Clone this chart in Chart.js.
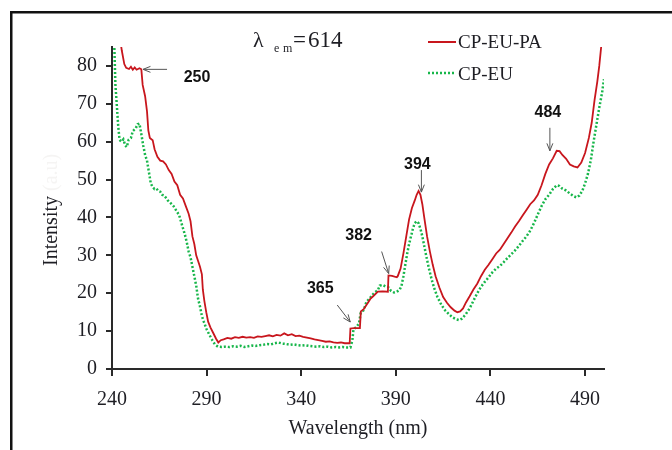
<!DOCTYPE html>
<html>
<head>
<meta charset="utf-8">
<title>Excitation spectra</title>
<script src="https://cdn.jsdelivr.net/npm/chart.js@4.4.0/dist/chart.umd.min.js"></script>
<style>
  html, body { margin: 0; padding: 0; background: #fff; }
  #wrap { width: 672px; height: 450px; position: relative; }
</style>
</head>
<body>
<div id="wrap"><canvas id="excChart"></canvas></div>
<script>
// ------------------------------------------------------------
// data
// ------------------------------------------------------------
const paWavelength = [
  244.0, 245.2, 246.5, 247.5, 249, 250, 251, 252, 253, 254.5, 255.5, 256.2, 257.5, 258.5, 259.2,
  260, 261.5, 262.5, 264, 265.5, 267, 268.5, 270, 271.5, 273, 274.5, 276, 277.5, 279, 280.5,
  281.5, 282.5, 283.5, 284.5, 285.5, 286.5, 287.5, 288, 288.8, 289.8, 290.8, 292, 293.5, 295,
  296.2, 297.5, 299, 301, 303, 305, 307, 309, 311, 313, 315, 317, 319, 321, 323, 325, 327, 329,
  331, 333, 335, 337, 339, 341, 343, 345, 347, 349, 351, 353, 355, 357, 359, 361, 363, 365.6,
  366, 368, 371, 371.5, 373, 375.5, 376.5, 378, 380.5, 383, 385.8, 386.1, 388, 390.5, 391,
  392.5, 394, 395.5, 397, 398.5, 400, 401, 402, 403, 404, 405, 406.5, 408, 409.5, 411, 413,
  415, 417, 419, 421, 422.5, 424, 425.5, 427, 429, 431, 433, 435, 437, 439, 441, 443, 445,
  447, 449, 451, 453, 455, 457, 459, 461, 463, 465, 467, 469, 471, 473, 475, 476.5, 478, 480,
  482, 484, 486, 488, 490, 492, 493.5, 495, 496.5, 497.5, 498.5, 499.5
];
const paIntensity = [
  88, 84, 80.5, 79.5, 79.2, 79.8, 79.0, 79.6, 79.0, 79.4, 79.1, 75, 72, 68, 63,
  61, 60.4, 58, 56, 55, 54.8, 54, 52.5, 51.5, 49.5, 48.5, 46, 45, 43, 41,
  39, 35, 33, 30, 28.5, 27, 25, 21, 18, 15, 12.5, 11, 9.5, 8,
  7, 7.6, 7.8, 8.2, 8.0, 8.4, 8.2, 8.5, 8.3, 8.4, 8.2, 8.6, 8.5, 8.7, 8.9, 8.6, 9.0, 8.8,
  9.4, 8.9, 9.2, 8.7, 8.8, 8.5, 8.3, 8.1, 7.8, 7.6, 7.4, 7.2, 7.3, 7.0, 6.9, 7.0, 6.8, 6.8,
  10.7, 10.8, 10.8, 15.2, 15.8, 17.7, 18.5, 19.2, 20.4, 20.5, 20.4, 24.7, 24.6, 24.2, 24.5,
  26.5, 30.5, 35, 39.5, 42.5, 44.5, 46, 47, 46, 43.5, 40, 35, 31, 27.5, 24.5, 21.5,
  19, 17.5, 16.3, 15.4, 15.0, 15.2, 16, 17.5, 19.2, 21, 22.5, 24.5, 26.2, 27.5, 29, 30.5, 31.5,
  33, 34.5, 36, 37.6, 39, 40.5, 42, 43.5, 44.5, 46, 48.5, 51.5, 54, 55.6, 57.6, 57.5, 56.5, 55.5,
  54, 53.5, 53.2, 54.5, 57, 61, 65, 71, 76, 80, 85, 90
];

const euWavelength = [
  240.8, 241.3, 241.8, 242.5, 243.3, 244.0, 245, 246, 247, 247.8, 248.8, 250, 251, 252.5, 253.5,
  254.5, 255.5, 256.5, 257.5, 258.5, 259.5, 260.5, 261.5, 262.5, 263.5, 264.5, 265.5, 266.5,
  267.5, 268.5, 269.5, 271, 272.5, 274, 275.5, 277, 278.5, 279.5, 280.5, 281.5, 282.5, 283.5,
  284.5, 285.5, 286.5, 287.5, 288.5, 290, 291.5, 293, 294.5, 296, 298, 300, 302, 304, 306, 308,
  310, 312, 314, 316, 318, 320, 322, 324, 326, 328, 330, 332, 334, 336, 338, 340, 342, 344,
  346, 348, 350, 352, 354, 356, 358, 360, 362, 364, 366, 367, 367.6, 369, 370.5, 371.5, 373,
  374.5, 376, 377.5, 379, 380.5, 381.5, 383, 384.5, 386, 387.5, 389, 390.5, 392, 393, 394,
  395, 396, 397, 398, 399, 400, 401, 402, 403, 404, 405, 406, 407.5, 409, 410.5, 412, 414,
  416, 418, 420, 422, 423.5, 425, 427, 429, 431, 433, 435, 437, 439, 441, 443, 445, 447, 449,
  451, 453, 455, 457, 459, 461, 463, 465, 467, 469, 471, 473, 475, 476.5, 478, 480, 482, 484,
  485.5, 487, 488.5, 490, 491.5, 493, 494.5, 496, 497.5, 499, 500
];
const euIntensity = [
  90, 84, 75, 70, 64, 60.5, 60.0, 60.6, 59, 58.6, 60.5, 61, 62.8, 63.5, 64.6,
  64.8, 62, 59, 56.5, 55, 52, 49, 48, 47.5, 47.6, 47, 46.8, 46,
  45.8, 45.2, 44.5, 43.8, 43, 41.8, 40.6, 38, 35.5, 33.5, 31, 29.5, 27, 24.5,
  22, 18.5, 16.5, 14, 12.5, 10.5, 9, 7.6, 6.4, 5.9, 5.8, 5.9, 5.8, 6.0, 5.9, 6.1,
  5.8, 6.0, 6.2, 6.1, 6.3, 6.4, 6.6, 6.5, 6.8, 7.0, 6.7, 6.6, 6.4, 6.5, 6.3, 6.2, 6.3, 6.1,
  6.0, 5.9, 6.0, 5.8, 5.9, 5.7, 5.8, 5.7, 5.8, 5.7, 5.7, 7.5, 10.5, 11, 12, 15, 15.5,
  17.8, 18.5, 19.5, 20.3, 20.8, 22, 22.2, 21.8, 21.6, 20.6, 20.2, 20.4, 20.9, 22, 24.5,
  27.5, 30.5, 33, 35, 37, 38.5, 39, 38.5, 37, 35, 32.5, 30, 26.5, 23.5, 21, 19, 17,
  15.5, 14.5, 13.6, 13.1, 12.9, 13.3, 14.5, 16, 18, 20, 21.7, 23, 24.2, 25.5, 26.5, 27.2, 28.2, 29.3,
  30.3, 31.3, 32.5, 33.8, 35, 36.5, 38.5, 40.8, 43, 44.8, 46, 47.5, 48.5, 48.3, 47.6, 47.1, 46.3, 45.6,
  45.3, 45.8, 47, 49, 51.5, 55, 60, 64.5, 69, 73, 76.5
];

const seriesNames = ['CP-EU-PA', 'CP-EU'];
const xTickValues = [240, 290, 340, 390, 440, 490];
const yTickValues = [0, 10, 20, 30, 40, 50, 60, 70, 80];

// marked peaks: label + where the arrow points (data units)
const peakLabels = ['250', '365', '382', '394', '484'];
const peakWavelength = [256.4, 365.9, 386.2, 403.5, 471.4];
const peakIntensity = [79.1, 12.4, 25.2, 46.7, 57.6];

// ------------------------------------------------------------
// styles
// ------------------------------------------------------------
const RED = '#c8161d';
const GREEN = '#17b64a';
const INK = '#1e1e24';
const AXIS = '#2a2a2a';
const SERIF = '"Liberation Serif", "Times New Roman", serif';

// arrow tail and label centre, px offsets from the arrow tip
const peakLayout = [
  { tail: [24, 0],    text: [54, 8] },
  { tail: [-13, -17], text: [-30, -33] },
  { tail: [-7, -22],  text: [-30, -38] },
  { tail: [0, -22],   text: [-4, -27] },
  { tail: [0, -23],   text: [-2, -38] },
];

function toPoints(xs, ys) {
  return xs.map((x, i) => ({ x, y: ys[i] }));
}

function drawArrow(ctx, x0, y0, x1, y1) {
  const a = Math.atan2(y1 - y0, x1 - x0);
  const h = 8;
  ctx.beginPath();
  ctx.moveTo(x0, y0);
  ctx.lineTo(x1, y1);
  ctx.moveTo(x1 - h * Math.cos(a - 0.38), y1 - h * Math.sin(a - 0.38));
  ctx.lineTo(x1, y1);
  ctx.lineTo(x1 - h * Math.cos(a + 0.38), y1 - h * Math.sin(a + 0.38));
  ctx.stroke();
}

// outer frame of the original figure
const framePlugin = {
  id: 'frame',
  beforeDraw(chart) {
    const ctx = chart.ctx;
    ctx.save();
    ctx.fillStyle = '#fff';
    ctx.fillRect(0, 0, chart.width, chart.height);
    ctx.fillStyle = '#111';
    ctx.fillRect(10, 11, 2.5, chart.height - 11);
    ctx.fillRect(10, 11, chart.width - 10, 2.5);
    ctx.restore();
  },
};

// y title, legend, lambda note and peak arrows
const notesPlugin = {
  id: 'notes',
  afterDraw(chart) {
    const ctx = chart.ctx;
    const xs = chart.scales.x, ys = chart.scales.y;
    ctx.save();

    // y title: "Intensity" with an almost invisible "(a.u)"
    ctx.translate(52, 266);
    ctx.rotate(-Math.PI / 2);
    ctx.font = '20px ' + SERIF;
    ctx.textAlign = 'left';
    ctx.textBaseline = 'middle';
    ctx.fillStyle = INK;
    ctx.fillText('Intensity', 0, 0);
    const w = ctx.measureText('Intensity ').width;
    ctx.fillStyle = 'rgba(120,100,80,0.07)';
    ctx.fillText('(a.u)', w, 0);
    ctx.setTransform(1, 0, 0, 1, 0, 0);

    // lambda_em = 614
    ctx.fillStyle = INK;
    ctx.textAlign = 'left';
    ctx.textBaseline = 'alphabetic';
    ctx.font = '22px ' + SERIF;
    ctx.fillText('\u03bb', 253, 47);
    ctx.font = '12px ' + SERIF;
    ctx.fillText('e', 274, 52);
    ctx.fillText('m', 283, 52);
    ctx.font = '23px ' + SERIF;
    ctx.fillText('=', 293, 47);
    ctx.fillText('614', 308, 47);

    // legend
    ctx.lineWidth = 2;
    ctx.strokeStyle = RED;
    ctx.beginPath();
    ctx.moveTo(428, 42);
    ctx.lineTo(456, 42);
    ctx.stroke();
    ctx.strokeStyle = GREEN;
    ctx.lineWidth = 2.5;
    ctx.setLineDash([2, 2]);
    ctx.beginPath();
    ctx.moveTo(428, 73);
    ctx.lineTo(455, 73);
    ctx.stroke();
    ctx.setLineDash([]);
    ctx.font = '19px ' + SERIF;
    ctx.textBaseline = 'middle';
    ctx.fillStyle = INK;
    ctx.fillText(seriesNames[0], 458, 43);
    ctx.fillText(seriesNames[1], 458, 75);

    // peak arrows
    ctx.strokeStyle = '#555';
    ctx.lineWidth = 1;
    ctx.font = 'bold 16px "Liberation Sans", Arial, sans-serif';
    ctx.textAlign = 'center';
    ctx.fillStyle = '#111';
    peakLabels.forEach((lbl, i) => {
      const tx = xs.getPixelForValue(peakWavelength[i]);
      const ty = ys.getPixelForValue(peakIntensity[i]);
      const L = peakLayout[i];
      drawArrow(ctx, tx + L.tail[0], ty + L.tail[1], tx, ty);
      ctx.fillText(lbl, tx + L.text[0], ty + L.text[1]);
    });
    ctx.restore();
  },
};

const ctx = document.getElementById('excChart').getContext('2d');
new Chart(ctx, {
  type: 'line',
  data: {
    datasets: [
      {
        label: seriesNames[0],
        data: toPoints(paWavelength, paIntensity),
        borderColor: RED,
        borderWidth: 1.8,
        pointRadius: 0,
        tension: 0,
        fill: false,
      },
      {
        label: seriesNames[1],
        data: toPoints(euWavelength, euIntensity),
        borderColor: GREEN,
        borderWidth: 2.5,
        borderDash: [2, 2],
        pointRadius: 0,
        tension: 0,
        fill: false,
      },
    ],
  },
  options: {
    responsive: true,
    maintainAspectRatio: false,
    animation: false,
    events: [],
    layout: { padding: { top: 47, right: 68, left: 0, bottom: 0 } },
    plugins: {
      legend: { display: false },
      tooltip: { enabled: false },
    },
    scales: {
      x: {
        type: 'linear',
        min: 240,
        max: 500,
        afterBuildTicks(scale) {
          scale.ticks = xTickValues.map(v => ({ value: v }));
        },
        afterFit(scale) { scale.height = 81; },
        grid: { drawOnChartArea: false, color: AXIS, lineWidth: 2, tickLength: 7 },
        border: { color: AXIS, width: 2 },
        ticks: { color: INK, padding: 12, maxRotation: 0, font: { family: SERIF, size: 20 } },
        title: {
          display: true,
          text: 'Wavelength (nm)',
          color: INK,
          font: { family: SERIF, size: 20 },
          padding: { top: 0, bottom: 9 },
        },
      },
      y: {
        min: 0,
        max: 85,
        afterBuildTicks(scale) {
          scale.ticks = yTickValues.map(v => ({ value: v }));
        },
        afterFit(scale) { scale.width = 112; },
        grid: { drawOnChartArea: false, color: AXIS, lineWidth: 2, tickLength: 6 },
        border: { color: AXIS, width: 2 },
        ticks: { color: INK, padding: 9, font: { family: SERIF, size: 20 } },
      },
    },
  },
  plugins: [framePlugin, notesPlugin],
});
</script>
</body>
</html>
